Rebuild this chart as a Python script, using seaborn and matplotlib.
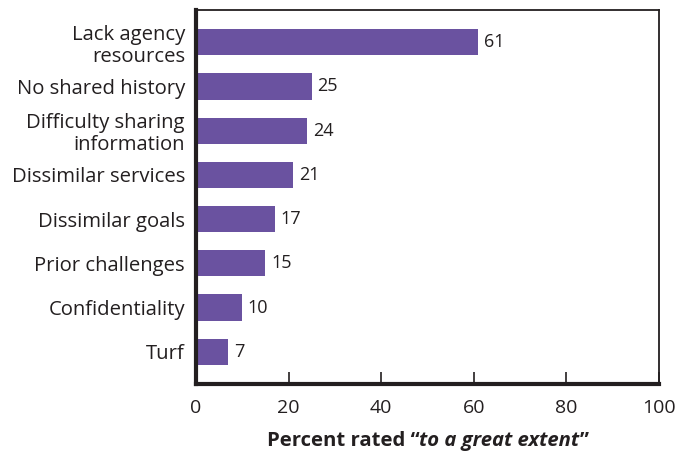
import matplotlib
matplotlib.use("Agg")
import matplotlib.pyplot as plt
import seaborn as sns
import pandas as pd

categories = ["Lack agency\nresources", "No shared history", "Difficulty sharing\ninformation",
              "Dissimilar services", "Dissimilar goals", "Prior challenges",
              "Confidentiality", "Turf"]
values = [61, 25, 24, 21, 17, 15, 10, 7]
xticks = [0, 20, 40, 60, 80, 100]

sns.set_theme(style="white")
plt.rcParams['font.family'] = ['Open Sans', 'DejaVu Sans']
TXT = "#231f20"
BAR = "#6a52a0"

df = pd.DataFrame({"category": categories, "value": values})

fig = plt.figure(figsize=(6.75, 4.54), dpi=100)
ax = fig.add_axes([196/675, 1-384/454, (659-196)/675, (384-10)/454])

sns.barplot(data=df, x="value", y="category", orient="h", color=BAR, saturation=1,
            width=0.59, ax=ax, edgecolor="none")

for c in ax.containers:
    ax.bar_label(c, labels=[str(v) for v in values], padding=4, fontsize=13, color=TXT)

ax.set_xlim(0, 100)
ax.set_ylim(7.73, -0.73)
ax.set_xticks(xticks)
ax.set_xticklabels([str(t) for t in xticks], fontsize=14, color=TXT)
ax.tick_params(axis='x', direction='in', length=9, width=1.2, color=TXT, pad=11,
               bottom=True)
ax.tick_params(axis='y', length=0, pad=8, labelsize=14.6, labelcolor=TXT)
for lbl in ax.get_yticklabels():
    lbl.set_horizontalalignment('right')
    lbl.set_multialignment('right')
    lbl.set_linespacing(1.12)
ax.set_ylabel("")
ax.set_xlabel("")

for side in ["left", "bottom"]:
    ax.spines[side].set_linewidth(3)
    ax.spines[side].set_color(TXT)
for side in ["top", "right"]:
    ax.spines[side].set_linewidth(1.3)
    ax.spines[side].set_color(TXT)

# x label with mixed bold / bold-italic
fig.canvas.draw()
r = fig.canvas.get_renderer()
parts = [("Percent rated \u201c", "normal"), ("to a great extent", "italic"), ("\u201d", "normal")]
texts = []
widths = []
for s, st in parts:
    t = fig.text(0, 0, s, fontsize=14.6, fontweight='bold', style=st, color=TXT,
                 ha='left', va='baseline')
    texts.append(t)
    widths.append(t.get_window_extent(r).width)
total = sum(widths)
cx = (196 + 659) / 2
x0 = cx - total / 2
ybase = 454 - 446
for t, w in zip(texts, widths):
    t.set_position((x0 / 675, ybase / 454))
    x0 += w

fig.savefig("out.png", dpi=100)
